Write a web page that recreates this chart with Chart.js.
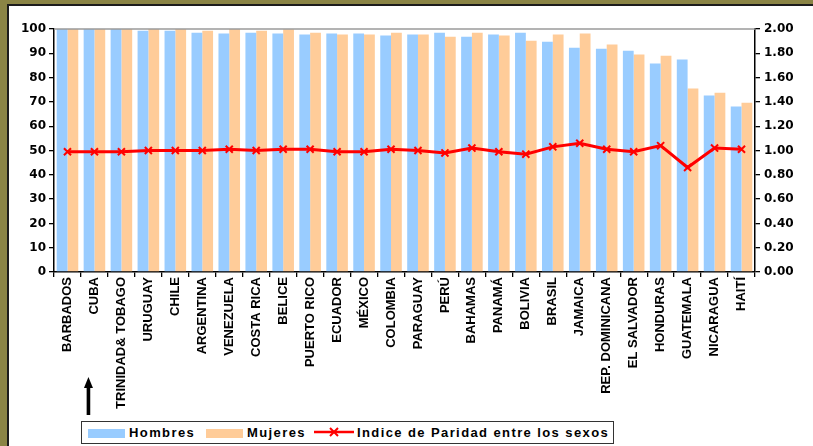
<!DOCTYPE html>
<html>
<head>
<meta charset="utf-8">
<script src="https://cdn.jsdelivr.net/npm/chart.js@4.4.1/dist/chart.umd.min.js"></script>
<style>
  html, body { margin: 0; padding: 0; }
  body { width: 813px; height: 446px; background: #8a8445; position: relative; overflow: hidden; }
  #panel { position: absolute; left: 7px; top: 4px; width: 820px; height: 460px; background: #fff;
    border-left: 2px solid #1c1c1c; border-top: 2px solid #1c1c1c; }
  #wrap { position: absolute; left: 0; top: 0; width: 813px; height: 446px; }
  #legend { position: absolute; left: 81px; top: 421px; width: 531px; height: 21px; border: 1.5px solid #333;
    background: #fff; font: bold 13px 'Liberation Sans', Arial, sans-serif; letter-spacing: 1.4px; color: #000; }
  #legend .it { position: absolute; top: 3px; line-height: 15px; white-space: nowrap; }
  #legend .sw { display: inline-block; width: 37px; height: 9px; vertical-align: -1px; margin-right: 4px; }
</style>
</head>
<body>
<div id="panel"></div>
<div id="wrap"><canvas id="chart"></canvas></div>
<div id="legend"></div>
<script>
var paises = ['BARBADOS', 'CUBA', 'TRINIDAD& TOBAGO', 'URUGUAY', 'CHILE', 'ARGENTINA', 'VENEZUELA',
  'COSTA RICA', 'BELICE', 'PUERTO RICO', 'ECUADOR', 'MÉXICO', 'COLOMBIA', 'PARAGUAY', 'PERÚ',
  'BAHAMAS', 'PANAMÁ', 'BOLIVIA', 'BRASIL', 'JAMAICA', 'REP. DOMINICANA', 'EL SALVADOR',
  'HONDURAS', 'GUATEMALA', 'NICARAGUA', 'HAITÍ'];
var hombres = [100, 100, 100, 99.3, 99.3, 98.5, 98.1, 98.5, 98.1, 97.7, 98.1, 98.1, 97.3, 97.7,
  98.5, 96.8, 97.7, 98.5, 94.8, 92.3, 91.9, 91.1, 85.8, 87.4, 72.6, 68.1];
var mujeres = [100, 100, 100, 100, 100, 99.3, 100, 99.3, 99.9, 98.5, 97.7, 97.7, 98.5, 97.7,
  96.8, 98.5, 97.3, 95.2, 97.7, 98.1, 93.6, 89.5, 89.0, 75.5, 73.8, 69.7];
var indice = [0.99, 0.99, 0.99, 1.00, 1.00, 1.00, 1.01, 1.00, 1.01, 1.01, 0.99, 0.99, 1.01, 1.00,
  0.98, 1.02, 0.99, 0.97, 1.03, 1.06, 1.01, 0.99, 1.04, 0.86, 1.02, 1.01];
var nombres = ['Hombres', 'Mujeres', 'Indice de Paridad entre los sexos'];

var BLUE = '#99ccff', PEACH = '#ffcc99', RED = '#ff0000';
var AXIS_FONT = { family: "'DejaVu Sans', sans-serif", size: 12, weight: 'bold' };
var CAT_FONT = { family: "'Liberation Sans', Arial, sans-serif", size: 13, weight: 'bold' };

// gray top border of the plot area + arrow below CUBA
var extras = {
  id: 'extras',
  afterDraw: function (chart) {
    var c = chart.ctx, a = chart.chartArea;
    c.save();
    c.strokeStyle = '#9a9a9a'; c.lineWidth = 1.5;
    c.beginPath(); c.moveTo(a.left, a.top); c.lineTo(a.right, a.top); c.stroke();
    var x = chart.scales.x.getPixelForValue(1) - 6;
    c.fillStyle = '#000';
    c.fillRect(x - 1.8, 386, 3.6, 29);
    c.beginPath(); c.moveTo(x, 377); c.lineTo(x + 4.5, 388); c.lineTo(x - 4.5, 388); c.closePath(); c.fill();
    c.restore();
  }
};

var chart = new Chart(document.getElementById('chart').getContext('2d'), {
  type: 'bar',
  data: {
    labels: paises,
    datasets: [
      { type: 'line', label: nombres[2], data: indice, yAxisID: 'y1', borderColor: RED, borderWidth: 3,
        pointStyle: 'crossRot', pointRadius: 5, pointBorderWidth: 2, pointBorderColor: RED, tension: 0, order: 0 },
      { label: nombres[0], data: hombres, backgroundColor: BLUE, yAxisID: 'y', order: 1 },
      { label: nombres[1], data: mujeres, backgroundColor: PEACH, yAxisID: 'y', order: 1 }
    ]
  },
  options: {
    responsive: true, maintainAspectRatio: false, animation: false,
    layout: { padding: { left: 0, right: 0, top: 29, bottom: 0 } },
    datasets: { bar: { categoryPercentage: 0.8, barPercentage: 1.0 } },
    plugins: { legend: { display: false }, tooltip: { enabled: false } },
    scales: {
      x: {
        grid: { drawOnChartArea: false, offset: true, tickLength: 5, color: '#000', lineWidth: 1.3 },
        border: { color: '#000', width: 1.5 },
        ticks: { color: '#000', font: CAT_FONT, minRotation: 90, maxRotation: 90, padding: 0, autoSkip: false },
        afterFit: function (s) { s.height = 174; }
      },
      y: {
        position: 'left', min: 0, max: 100,
        grid: { drawOnChartArea: false, tickLength: 5, color: '#000', lineWidth: 1.3 },
        border: { color: '#000', width: 1.5 },
        ticks: { stepSize: 10, color: '#000', font: AXIS_FONT, padding: 3 },
        afterFit: function (s) { s.width = 54; }
      },
      y1: {
        position: 'right', min: 0, max: 2,
        grid: { drawOnChartArea: false, tickLength: 5, color: '#000', lineWidth: 1.3 },
        border: { color: '#000', width: 1.5 },
        ticks: { stepSize: 0.2, color: '#000', font: AXIS_FONT, padding: 4,
          callback: function (v) { return Number(v).toFixed(2); } },
        afterFit: function (s) { s.width = 58; }
      }
    }
  },
  plugins: [extras]
});

// legend built from the datasets
var lg = document.getElementById('legend');
var pos = [6, 124, 232];
[1, 2, 0].forEach(function (di, i) {
  var ds = chart.data.datasets[di];
  var it = document.createElement('span');
  it.className = 'it';
  it.style.left = pos[i] + 'px';
  if (ds.type === 'line') {
    it.innerHTML = '<svg width="40" height="12" style="vertical-align:-1px;margin-right:3px">' +
      '<line x1="0" y1="6" x2="40" y2="6" stroke="' + ds.borderColor + '" stroke-width="2.5"/>' +
      '<path d="M16 2 L24 10 M24 2 L16 10" stroke="' + ds.borderColor + '" stroke-width="2"/></svg>';
  } else {
    it.innerHTML = '<span class="sw" style="background:' + ds.backgroundColor + '"></span>';
  }
  it.appendChild(document.createTextNode(ds.label));
  lg.appendChild(it);
});
</script>
</body>
</html>
